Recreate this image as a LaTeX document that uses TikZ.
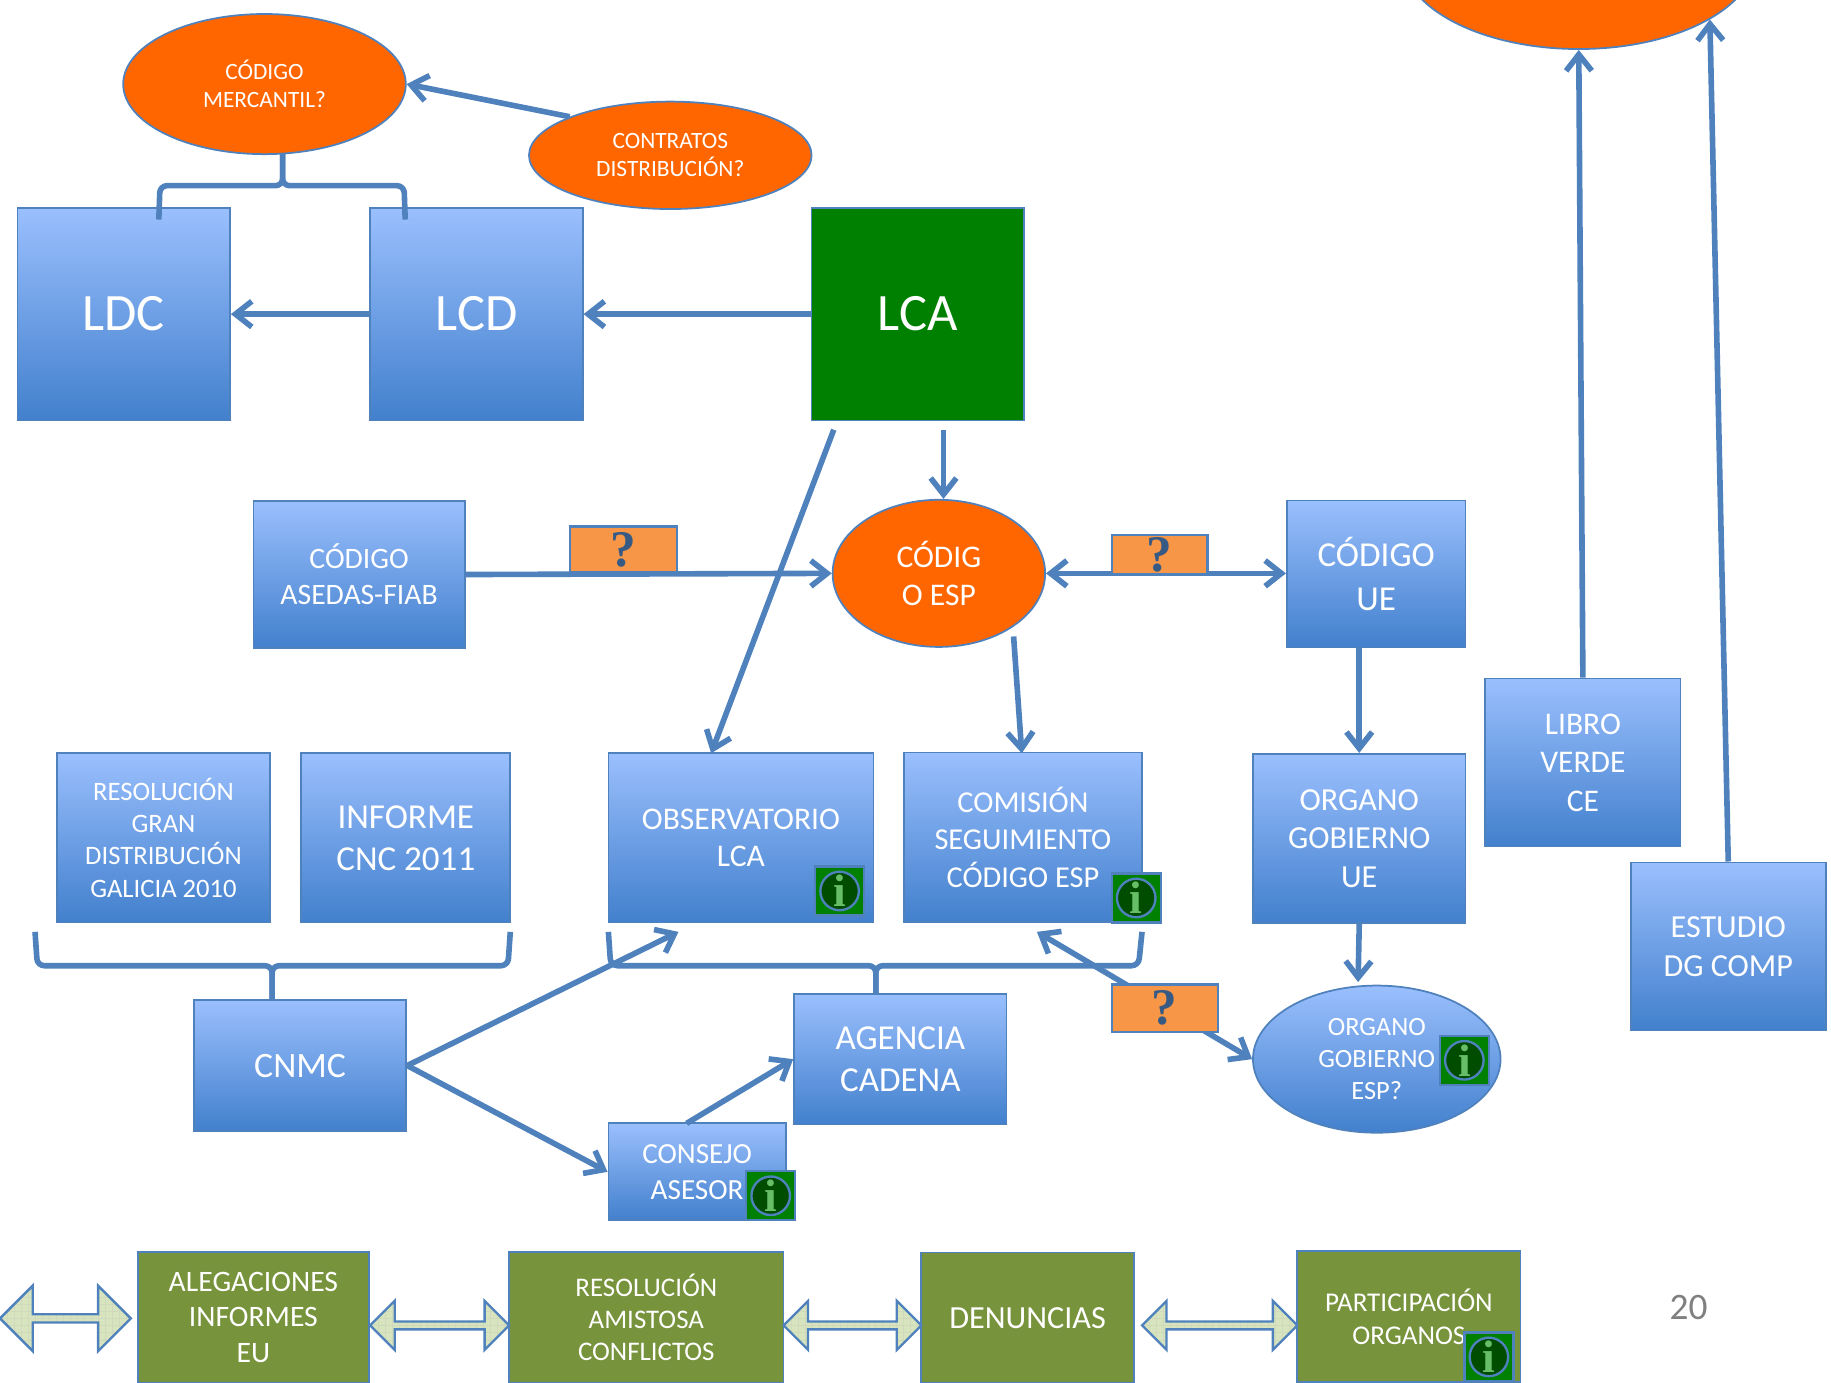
\documentclass[tikz,border=0pt]{standalone}
\usepackage{fontspec}
\setmainfont{Carlito}
\newfontfamily\iconfont{Liberation Serif}
\usetikzlibrary{arrows.meta,shapes.geometric,shapes.arrows,patterns}
\definecolor{linkblue}{HTML}{4F81BD}
\definecolor{boxtop}{HTML}{9ABFFD}
\definecolor{boxbot}{HTML}{4280CD}
\definecolor{lawgreen}{HTML}{008000}
\definecolor{olive}{HTML}{77933C}
\definecolor{askorange}{HTML}{F79646}
\definecolor{ellorange}{HTML}{FF6600}
\definecolor{arrowfill}{HTML}{D7E4BD}
\newcommand{\fsize}[2]{\fontsize{#1}{#2}\selectfont}
\newcommand{\infoicon}[2]{
        \node[infosquare] (#1) at (#2) {};
        \node[infocircle] (#1c) at (#1) {i};
}
\tikzset{
        >={Straight Barb[length=7pt,width=11pt]},
        link/.style={draw=linkblue,line width=2.4pt,line join=round},
        base/.style={draw=linkblue,line width=0.75pt,text=white,align=center,inner sep=0pt},
        bluebox/.style={base,rectangle,top color=boxtop,bottom color=boxbot},
        greenbox/.style={base,rectangle,fill=olive},
        orangeell/.style={base,ellipse,fill=ellorange},
        askbox/.style={draw=linkblue,line width=1pt,rectangle,fill=askorange,inner sep=0pt,
                text=linkblue!70!black,font=\iconfont\bfseries\fsize{22}{24}},
        infosquare/.style={draw=linkblue,line width=1pt,rectangle,fill=lawgreen,minimum size=21pt,inner sep=0pt},
        infocircle/.style={draw=linkblue,line width=1pt,circle,fill=lawgreen!60!black,minimum size=16.5pt,inner sep=0pt,
                text=green!40!gray!85!white,font=\iconfont\bfseries\fsize{19.5}{20}},
        dblarrow/.style={draw=linkblue,line width=1pt,double arrow,double arrow tip angle=90,inner sep=0pt,
                preaction={fill=arrowfill},pattern=grid,pattern color=olive!35},
}
\begin{document}
\begin{tikzpicture}[x=0.5pt,y=-0.5pt]
        \useasboundingbox (0,0) rectangle (1568,1183.5);
        \clip (0,0) rectangle (1568,1183.5);

        \node[orangeell,minimum width=152pt,minimum height=80pt] (topell) at (1352,-38) {};
        \node[orangeell,minimum width=121pt,minimum height=60pt,font=\fsize{10}{12}] (mercantil) at (226.5,72) {CÓDIGO\\MERCANTIL?};
        \node[orangeell,minimum width=121pt,minimum height=46pt,font=\fsize{10}{12}] (contratos) at (574,133) {CONTRATOS\\DISTRIBUCIÓN?};

        \node[bluebox,minimum width=91pt,minimum height=91pt,font=\fsize{22.5}{26}] (ldc) at (106,269) {LDC};
        \node[bluebox,minimum width=91pt,minimum height=91pt,font=\fsize{22.5}{26}] (lcd) at (408,269) {LCD};
        \node[base,rectangle,fill=lawgreen,minimum width=91pt,minimum height=91pt,font=\fsize{22.5}{26}] (lca) at (786,269) {LCA};

        \node[bluebox,minimum width=90.5pt,minimum height=63pt,font=\fsize{12.7}{15.5}] (asedas) at (307.5,492) {CÓDIGO\\ASEDAS-FIAB};
        \node[orangeell,minimum width=91pt,minimum height=63pt,font=\fsize{13.5}{16.5}] (codesp) at (804,491) {CÓDIG\\O ESP};
        \node[bluebox,minimum width=76.5pt,minimum height=63pt,font=\fsize{15}{18.5}] (codue) at (1178.5,491.5) {CÓDIGO\\UE};

        \node[bluebox,minimum width=83.5pt,minimum height=72pt,font=\fsize{13.5}{16.5}] (libro) at (1355.5,653) {LIBRO\\VERDE\\CE};
        \node[bluebox,minimum width=83.5pt,minimum height=72pt,font=\fsize{13.75}{16.5}] (estudio) at (1480,810.5) {ESTUDIO\\DG COMP};

        \node[bluebox,minimum width=91pt,minimum height=72.5pt,font=\fsize{11.4}{13.75}] (galicia) at (140,717.5) {RESOLUCIÓN\\GRAN\\DISTRIBUCIÓN\\GALICIA 2010};
        \node[bluebox,minimum width=89.5pt,minimum height=72.5pt,font=\fsize{15}{18}] (informe) at (347.5,717.5) {INFORME\\CNC 2011};
        \node[bluebox,minimum width=113.5pt,minimum height=72.5pt,font=\fsize{13.5}{15.5}] (observ) at (634.5,717.5) {OBSERVATORIO\\LCA};
        \node[bluebox,minimum width=102pt,minimum height=72.5pt,font=\fsize{13}{16}] (comision) at (876,717) {COMISIÓN\\SEGUIMIENTO\\CÓDIGO ESP};
        \node[bluebox,minimum width=91pt,minimum height=72.5pt,font=\fsize{13.75}{16.5}] (orgue) at (1164,718) {ORGANO\\GOBIERNO\\UE};

        \node[bluebox,minimum width=91pt,minimum height=56pt,font=\fsize{15.3}{18}] (cnmc) at (257,912.5) {CNMC};
        \node[bluebox,minimum width=91pt,minimum height=56pt,font=\fsize{15}{18}] (agencia) at (771,907) {AGENCIA\\CADENA};
        \node[bluebox,minimum width=76pt,minimum height=41.5pt,font=\fsize{12.5}{15.5}] (consejo) at (597,1003.5) {CONSEJO\\ASESOR};
        \node[base,ellipse,top color=boxtop,bottom color=boxbot,minimum width=106pt,minimum height=63pt,font=\fsize{11.3}{13.75}] (orgesp) at (1179,907) {ORGANO\\GOBIERNO\\ESP?};

        \node[greenbox,minimum width=99pt,minimum height=56pt,font=\fsize{12.7}{15.25}] (alegaciones) at (217,1128) {ALEGACIONES\\INFORMES\\EU};
        \node[greenbox,minimum width=117.5pt,minimum height=56pt,font=\fsize{11.5}{13.75}] (amistosa) at (553.5,1128) {RESOLUCIÓN\\AMISTOSA\\CONFLICTOS};
        \node[greenbox,minimum width=91pt,minimum height=56pt,font=\fsize{13.8}{16}] (denuncias) at (880,1128.5) {DENUNCIAS};
        \node[greenbox,minimum width=95.5pt,minimum height=56pt,font=\fsize{11.6}{14}] (particip) at (1206.5,1127.5) {PARTICIPACIÓN\\ORGANOS};

        \node[dblarrow,minimum height=56pt,minimum width=28pt,double arrow head extend=3.5pt] (arrowa) at (56,1129) {};
        \node[dblarrow,minimum height=59.5pt,minimum width=21pt,double arrow head extend=2.6pt] (arrowb) at (376.5,1135) {};
        \node[dblarrow,minimum height=59pt,minimum width=21pt,double arrow head extend=2.6pt] (arrowc) at (730,1135) {};
        \node[dblarrow,minimum height=66.5pt,minimum width=21pt,double arrow head extend=2.6pt] (arrowd) at (1044.5,1135) {};

        \node[text=gray,font=\fsize{16}{18}] (pagenum) at (1446,1120) {20};

        \coordinate (ldctick) at (136,188);
        \coordinate (lcdtick) at (347,188);
        \coordinate (mertip) at (242,132);
        \coordinate (galtick) at (30,798);
        \coordinate (inftick) at (437,798);
        \coordinate (cnmctip) at (233,856);
        \coordinate (obstick) at (521,798);
        \coordinate (comtick) at (978,798);
        \coordinate (agetip) at (750,851);
        \coordinate (lcaesp) at (808,368);
        \coordinate (lcaobs) at (714,368);
        \coordinate (obsin) at (609,645);
        \coordinate (espcom) at (868,545);
        \coordinate (comin) at (875,645);
        \coordinate (orgin) at (1163,841);
        \coordinate (cnmcobs) at (581,798);
        \coordinate (comarrow) at (888,798);
        \coordinate (consout) at (588,962);

        \draw[link,->] (lca.west) -- (lcd.east);
        \draw[link,->] (lcd.west) -- (ldc.east);
        \draw[link,->] (contratos.159) -- (mercantil.east);
        \draw[link,rounded corners=3pt] (ldctick) -- (137,159) -- (242,159) -- (mertip);
        \draw[link,rounded corners=3pt] (lcdtick) -- (346,159) -- (242,159) -- (mertip);
        \draw[link,rounded corners=3pt] (galtick) -- (32,827) -- (233,827) -- (cnmctip);
        \draw[link,rounded corners=3pt] (inftick) -- (435,827) -- (233,827) -- (cnmctip);
        \draw[link,rounded corners=3pt] (obstick) -- (523,827) -- (750,827) -- (agetip);
        \draw[link,rounded corners=3pt] (comtick) -- (975,827) -- (750,827) -- (agetip);

        \draw[link,->] (lcaesp) -- (lcaesp |- codesp.north);
        \draw[link,->] (lcaobs) -- (obsin);
        \draw[link,->] (asedas.east) -- (codesp.west);
        \draw[link,<->] (codesp.east) -- (codesp.east -| codue.west);
        \draw[link,->] (espcom) -- (comin);
        \draw[link,->] (codue.south -| orgue.north) -- (orgue.north);
        \draw[link,->] (orgue.south) -- (orgin);
        \draw[link,->] (libro.north) -- (topell.south);
        \draw[link,->] (estudio.north) -- (topell.-26);
        \draw[link,->] (cnmc.east) -- (cnmcobs);
        \draw[link,->] (cnmc.east) -- (consejo.west);
        \draw[link,->] (consout) -- (agencia.west);
        \draw[link,<->] (comarrow) -- (orgesp.west);

        \node[askbox,minimum width=46pt,minimum height=19.5pt] (aska) at (534,470.5) {?};
        \node[askbox,minimum width=41pt,minimum height=17pt] (askb) at (993,475) {?};
        \node[askbox,minimum width=45.5pt,minimum height=20.5pt] (askc) at (997.5,863.5) {?};

        \infoicon{infoa}{719,763}
        \infoicon{infob}{973,769}
        \infoicon{infoc}{1254,908}
        \infoicon{infod}{660,1024}
        \infoicon{infoe}{1275,1162}
\end{tikzpicture}
\end{document}
